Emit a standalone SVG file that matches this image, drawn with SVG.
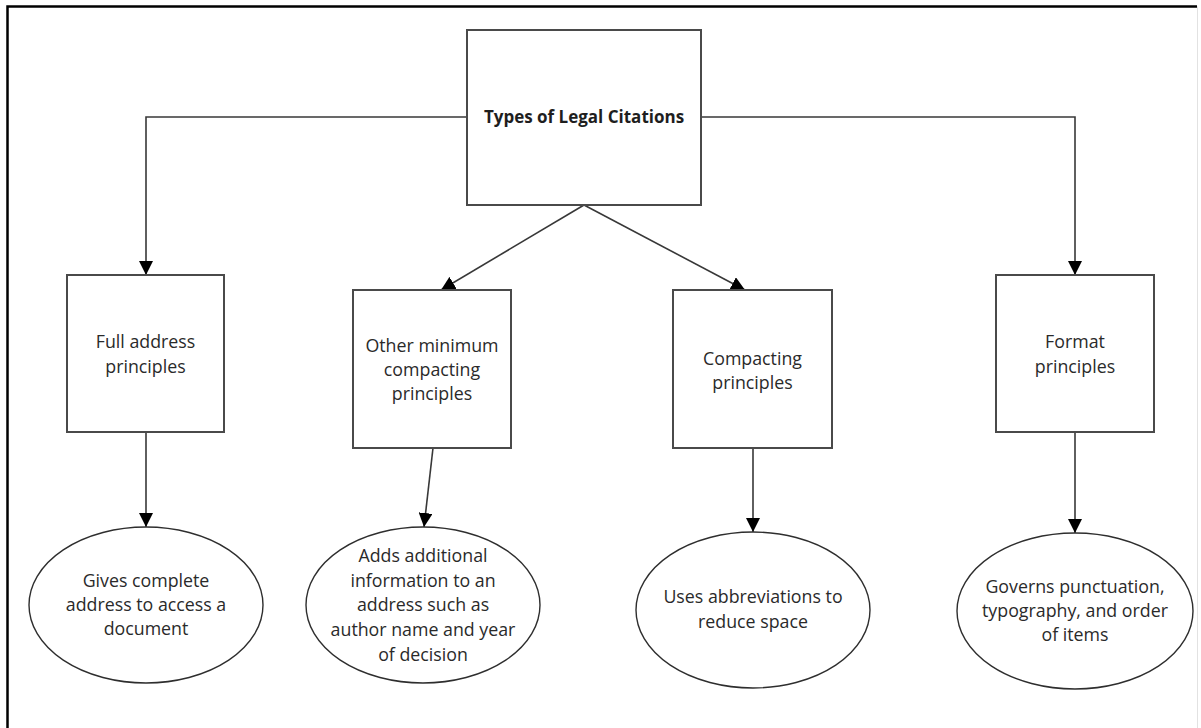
<svg xmlns="http://www.w3.org/2000/svg" width="1201" height="728" viewBox="0 0 1201 728">
  <defs>
    <marker id="arrow" markerUnits="userSpaceOnUse" markerWidth="14" markerHeight="14" viewBox="0 0 12 12" refX="12" refY="6" orient="auto">
      <path d="M0,0 L12,6 L0,12 Z" fill="#000"/>
    </marker>
    <style>
      .box { fill: #fff; stroke: #4a4a4a; stroke-width: 2; }
      .oval { fill: #fff; stroke: #2e2e2e; stroke-width: 1.4; }
      .conn { fill: none; stroke: #383838; stroke-width: 1.6; marker-end: url(#arrow); }
      .lbl { font-family: "Open Sans", "Liberation Sans", sans-serif; font-size: 17.8px; fill: #2a2a2a; text-anchor: middle; }
      .title { font-family: "Open Sans", "Liberation Sans", sans-serif; font-size: 17px; font-weight: bold; fill: #1e1e1e; text-anchor: middle; }
    </style>
  </defs>

  <rect width="1201" height="728" fill="#fff"/>

  <!-- frame -->
  <path d="M7.5,740 V6.5 H1197" fill="none" stroke="#000" stroke-width="2.5"/>
  <path d="M1197.5,6.5 V740" fill="none" stroke="#e2e2e2" stroke-width="1"/>

  <!-- connectors -->
  <g id="connectors">
    <path class="conn" d="M467,117 H146 V275"/>
    <path class="conn" d="M701,117 H1075 V275"/>
    <path class="conn" d="M584,205 L441,290"/>
    <path class="conn" d="M584,205 L745,290"/>
    <path class="conn" d="M146,432 V527"/>
    <path class="conn" d="M433,448 L424,527"/>
    <path class="conn" d="M753,448 V532"/>
    <path class="conn" d="M1075,432 V533"/>
  </g>

  <g id="root">
    <rect class="box" x="467" y="30" width="234" height="175"/>
    <text class="title" x="584" y="123">Types of Legal Citations</text>
  </g>

  <g id="full-address">
    <rect class="box" x="67" y="275" width="157" height="157"/>
    <text class="lbl"><tspan x="145.5" y="348">Full address</tspan><tspan x="145.5" y="373">principles</tspan></text>
  </g>

  <g id="other-minimum">
    <rect class="box" x="353" y="290" width="158" height="158"/>
    <text class="lbl"><tspan x="432" y="352">Other minimum</tspan><tspan x="432" y="376">compacting</tspan><tspan x="432" y="400">principles</tspan></text>
  </g>

  <g id="compacting">
    <rect class="box" x="673" y="290" width="159" height="158"/>
    <text class="lbl"><tspan x="752.5" y="365">Compacting</tspan><tspan x="752.5" y="389">principles</tspan></text>
  </g>

  <g id="format">
    <rect class="box" x="996" y="275" width="158" height="157"/>
    <text class="lbl"><tspan x="1075" y="348">Format</tspan><tspan x="1075" y="373">principles</tspan></text>
  </g>

  <g id="full-address-desc">
    <ellipse class="oval" cx="146" cy="605" rx="117" ry="78"/>
    <text class="lbl"><tspan x="146" y="587">Gives complete</tspan><tspan x="146" y="611">address to access a</tspan><tspan x="146" y="635">document</tspan></text>
  </g>

  <g id="other-minimum-desc">
    <ellipse class="oval" cx="423" cy="605" rx="117" ry="78"/>
    <text class="lbl"><tspan x="423" y="562">Adds additional</tspan><tspan x="423" y="587">information to an</tspan><tspan x="423" y="611">address such as</tspan><tspan x="423" y="636">author name and year</tspan><tspan x="423" y="661">of decision</tspan></text>
  </g>

  <g id="compacting-desc">
    <ellipse class="oval" cx="753" cy="610" rx="117" ry="78"/>
    <text class="lbl"><tspan x="753" y="603">Uses abbreviations to</tspan><tspan x="753" y="628">reduce space</tspan></text>
  </g>

  <g id="format-desc">
    <ellipse class="oval" cx="1075" cy="611" rx="118" ry="78"/>
    <text class="lbl"><tspan x="1075" y="593">Governs punctuation,</tspan><tspan x="1075" y="617">typography, and order</tspan><tspan x="1075" y="641">of items</tspan></text>
  </g>
</svg>
